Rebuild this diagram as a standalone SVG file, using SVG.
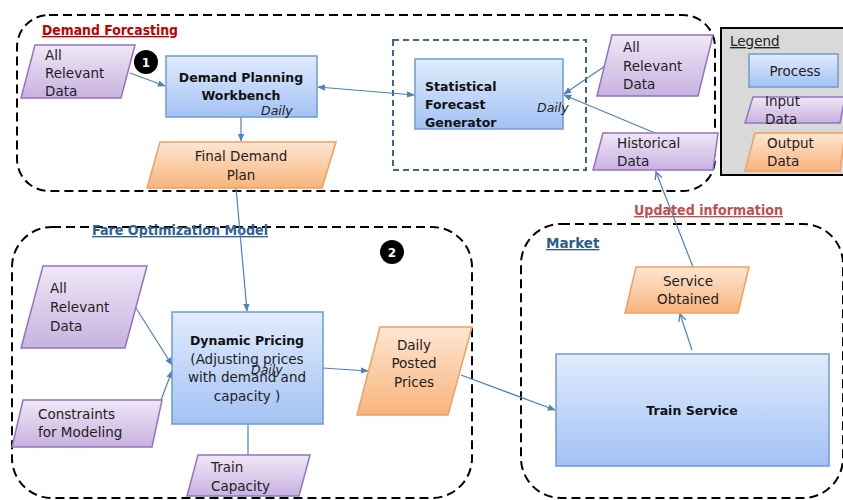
<svg xmlns="http://www.w3.org/2000/svg" width="843" height="500" viewBox="0 0 843 500">
<defs>
<linearGradient id="gProc" x1="0" y1="0" x2="0" y2="1"><stop offset="0" stop-color="#e1ecfd"/><stop offset="1" stop-color="#a3c2f4"/></linearGradient>
<linearGradient id="gIn" x1="0" y1="0" x2="0" y2="1"><stop offset="0" stop-color="#efe8f7"/><stop offset="1" stop-color="#c8b1df"/></linearGradient>
<linearGradient id="gOut" x1="0" y1="0" x2="0" y2="1"><stop offset="0" stop-color="#fde6d2"/><stop offset="1" stop-color="#f9b47c"/></linearGradient>
<marker id="ah" viewBox="0 0 10 10" refX="9" refY="5" markerWidth="8" markerHeight="8" markerUnits="userSpaceOnUse" orient="auto-start-reverse"><path d="M0,1 L10,5 L0,9 z" fill="#4f81bd"/></marker>
<marker id="ao" viewBox="0 0 10 10" refX="9" refY="5" markerWidth="9" markerHeight="9" markerUnits="userSpaceOnUse" orient="auto"><path d="M1,1 L9,5 L1,9" fill="none" stroke="#4f81bd" stroke-width="1.5"/></marker>
</defs>
<style>
.cont{fill:none;stroke:#000;stroke-width:2;stroke-dasharray:9 5}
.proc{fill:url(#gProc);stroke:#6f9ad6;stroke-width:1.5}
.inp{fill:url(#gIn);stroke:#9573bf;stroke-width:1.5}
.out{fill:url(#gOut);stroke:#f0a060;stroke-width:1.5}
text{font-family:"DejaVu Sans","Liberation Sans",sans-serif;font-size:13.5px;fill:#222}
.b{font-weight:bold;font-size:12.5px;fill:#111}
.i{font-style:italic;font-size:12.5px}
.c{text-anchor:middle}
.conn{fill:none;stroke:#4f81bd;stroke-width:1.2}
.ttl{font-weight:bold;font-size:13.5px;text-decoration:underline}
</style>
<rect width="843" height="500" fill="#fff"/>

<g id="containers">
<rect class="cont" x="17" y="15" width="698" height="176" rx="32"/>
<rect class="cont" x="12" y="227" width="460" height="271" rx="40"/>
<rect class="cont" x="521" y="224" width="322" height="274" rx="40"/>
<rect x="393" y="40" width="193" height="130" fill="none" stroke="#3d6593" stroke-width="2" stroke-dasharray="6 4"/>
</g>

<g id="titles">
<text class="ttl" x="42" y="35" style="fill:#c00000" textLength="136" lengthAdjust="spacingAndGlyphs">Demand Forcasting</text>
<text class="ttl" x="92" y="235" style="fill:#2e6095" textLength="176" lengthAdjust="spacingAndGlyphs">Fare Optimization Model</text>
<text class="ttl" x="546" y="248" style="fill:#2e5c8a">Market</text>
<text class="ttl" x="634" y="215" style="fill:#c0504d" textLength="149" lengthAdjust="spacingAndGlyphs">Updated information</text>
</g>

<g id="connectors">
<line class="conn" x1="130" y1="73" x2="165" y2="86" marker-end="url(#ah)"/>
<line class="conn" x1="241" y1="117" x2="241" y2="141" marker-end="url(#ah)"/>
<line class="conn" x1="318" y1="87" x2="414" y2="95" marker-start="url(#ah)" marker-end="url(#ah)"/>
<line class="conn" x1="605" y1="66" x2="564" y2="94" marker-end="url(#ah)"/>
<line class="conn" x1="655" y1="133" x2="564" y2="95" marker-end="url(#ah)"/>
<line class="conn" x1="693" y1="267" x2="656" y2="172" marker-end="url(#ao)"/>
<line class="conn" x1="236" y1="188" x2="247" y2="311" marker-end="url(#ah)"/>
<line class="conn" x1="136" y1="308" x2="172" y2="365" marker-end="url(#ah)"/>
<line class="conn" x1="161" y1="400" x2="172" y2="371" marker-end="url(#ah)"/>
<line class="conn" x1="248" y1="455" x2="248" y2="402"/>
<line class="conn" x1="323" y1="368" x2="368" y2="371" marker-end="url(#ah)"/>
<line class="conn" x1="461" y1="375" x2="555" y2="410" marker-end="url(#ah)"/>
<line class="conn" x1="692" y1="350" x2="680" y2="314" marker-end="url(#ao)"/>
</g>

<g id="ard1">
<polygon class="inp" points="35,45 135,45 121,98 21,98"/>
<text x="45" y="60">All</text><text x="45" y="78">Relevant</text><text x="45" y="96">Data</text>
</g>
<g id="badge1">
<circle cx="146" cy="62" r="12" fill="#000"/>
<text class="c" x="146" y="67" style="fill:#fff;font-weight:bold;font-size:12px">1</text>
</g>
<g id="dpw">
<rect class="proc" x="166" y="56" width="151" height="61"/>
<text class="b c" x="241" y="82">Demand Planning</text>
<text class="b c" x="241" y="100">Workbench</text>
<text class="i" x="261" y="115">Daily</text>
</g>
<g id="fdp">
<polygon class="out" points="160,142 336,142 322,188 147,188"/>
<text class="c" x="241" y="161">Final Demand</text>
<text class="c" x="241" y="180">Plan</text>
</g>
<g id="sfg">
<rect class="proc" x="415" y="59" width="148" height="70"/>
<text class="b" x="425" y="91">Statistical</text>
<text class="b" x="425" y="109">Forecast</text>
<text class="b" x="425" y="127">Generator</text>
<text class="i" x="537" y="112">Daily</text>
</g>
<g id="ard2">
<polygon class="inp" points="612,35 713,35 698,96 597,96"/>
<text x="623" y="52">All</text><text x="623" y="71">Relevant</text><text x="623" y="89">Data</text>
</g>
<g id="hist">
<polygon class="inp" points="603,133 718,133 713,170 593,170"/>
<text x="617" y="148">Historical</text><text x="617" y="166">Data</text>
</g>

<g id="legend">
<rect x="721" y="28" width="126" height="147" fill="#d9d9d9" stroke="#000" stroke-width="2"/>
<text x="730" y="46" style="text-decoration:underline">Legend</text>
<rect class="proc" x="749" y="54" width="89" height="33"/>
<text class="c" x="795" y="76">Process</text>
<polygon class="inp" points="753,97 845,97 840,123 745,123"/>
<text x="765" y="106">Input</text><text x="765" y="124">Data</text>
<polygon class="out" points="755,133 845,133 840,171 745,171"/>
<text x="767" y="148">Output</text><text x="767" y="166">Data</text>
</g>

<g id="badge2">
<circle cx="392" cy="252" r="12" fill="#000"/>
<text class="c" x="392" y="257" style="fill:#fff;font-weight:bold;font-size:12px">2</text>
</g>
<g id="ard3">
<polygon class="inp" points="43,266 147,266 125,348 21,348"/>
<text x="50" y="293">All</text><text x="50" y="312">Relevant</text><text x="50" y="331">Data</text>
</g>
<g id="cfm">
<polygon class="inp" points="23,400 162,400 152,447 12,447"/>
<text x="38" y="419">Constraints</text><text x="38" y="437">for Modeling</text>
</g>
<g id="dp">
<rect class="proc" x="172" y="312" width="151" height="112"/>
<text class="b c" x="247" y="345">Dynamic Pricing</text>
<text class="c" x="247" y="364">(Adjusting prices</text>
<text class="c" x="247" y="382">with demand and</text>
<text class="c" x="247" y="401">capacity )</text>
<text class="i" x="251" y="374">Daily</text>
</g>
<g id="tc">
<polygon class="inp" points="198,455 310,455 299,496 187,496"/>
<text x="211" y="472">Train</text><text x="211" y="491">Capacity</text>
</g>
<g id="dpp">
<polygon class="out" points="380,327 472,327 448,415 357,415"/>
<text class="c" x="414" y="350">Daily</text>
<text class="c" x="414" y="368">Posted</text>
<text class="c" x="414" y="387">Prices</text>
</g>
<g id="so">
<polygon class="out" points="636,267 749,267 738,313 625,313"/>
<text class="c" x="688" y="286">Service</text>
<text class="c" x="688" y="304">Obtained</text>
</g>
<g id="ts">
<rect class="proc" x="556" y="354" width="273" height="112"/>
<text class="b c" x="692" y="415">Train Service</text>
</g>
</svg>
